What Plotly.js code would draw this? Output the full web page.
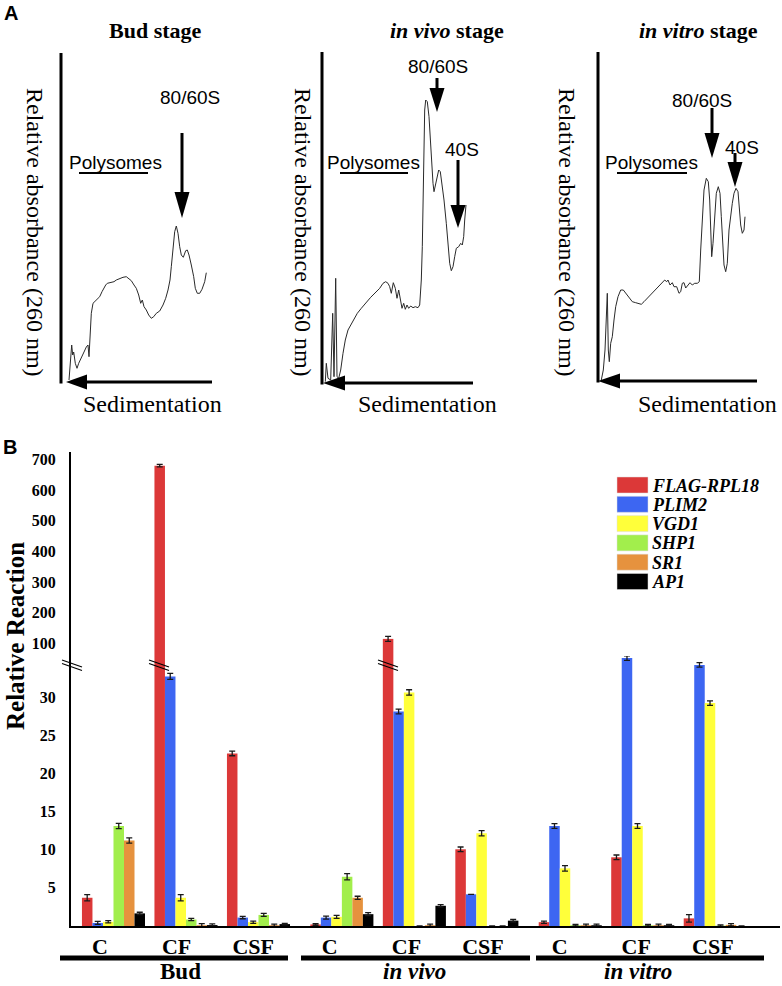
<!DOCTYPE html>
<html>
<head>
<meta charset="utf-8">
<script src="https://cdn.plot.ly/plotly-3.0.1.min.js"></script>
<style>html,body{margin:0;padding:0;background:#fff;}#chart{width:782px;height:986px;}</style>
</head>
<body>
<div id="chart"></div>
<script>
// ---------------- Panel B data ----------------
const stages = ['Bud', 'in vivo', 'in vitro'];
const conditions = ['C', 'CF', 'CSF'];
const genes = ['FLAG-RPL18', 'PLIM2', 'VGD1', 'SHP1', 'SR1', 'AP1'];
// values per gene over groups: Bud C, Bud CF, Bud CSF, in vivo C, CF, CSF, in vitro C, CF, CSF
const flagRpl18 = [3.7, 680, 22.6, 0.2, 115, 10.05, 0.5, 9.0, 1.0];
const flagRpl18Err = [0.4, 4, 0.3, 0.1, 8, 0.3, 0.15, 0.3, 0.5];
const plim2 = [0.4, 32.7, 1.1, 1.1, 28.1, 4.15, 13.1, 35.1, 34.2];
const plim2Err = [0.2, 0.4, 0.15, 0.2, 0.3, null, 0.3, 0.3, 0.3];
const vgd1 = [0.55, 3.7, 0.5, 1.2, 30.6, 12.15, 7.55, 13.1, 29.2];
const vgd1Err = [0.15, 0.4, 0.15, 0.2, 0.35, 0.35, 0.35, 0.3, 0.3];
const shp1 = [13.1, 0.85, 1.45, 6.45, 0, 0, 0.1, 0.1, 0.05];
const shp1Err = [0.35, 0.15, 0.2, 0.4, null, null, 0.1, 0.1, 0.1];
const sr1 = [11.2, 0.1, 0.1, 3.7, 0.1, 0, 0.1, 0.1, 0.15];
const sr1Err = [0.35, 0.2, 0.15, 0.2, 0.15, null, 0.15, 0.15, 0.15];
const ap1 = [1.65, 0.12, 0.25, 1.55, 2.65, 0.7, 0.1, 0.1, 0];
const ap1Err = [0.15, 0.15, 0.1, 0.2, 0.15, 0.15, 0.15, 0.1, null];
const lowerTicks = [5, 10, 15, 20, 25, 30];
const upperTicks = [100, 200, 300, 400, 500, 600, 700];

// ---------------- Panel A data (absorbance traces, arbitrary units) ----------------
const budSed = [8,9.7,10.7,11.7,12.7,14.3,16,17.7,20.3,23,25.3,27,28,29,30.3,32,35.3,38.7,41,43,44.7,46.3,48.7,50.3,53,55.3,58.7,62,65.3,67.7,70.3,73,75.3,77.7,79.7,81.3,83,85.3,87.7,90.3,92.7,95.3,98.7,102,104.7,107,109,110.3,112,113.7,115.3,117,118.7,120.3,122.3,124.7,126.3,128,130.3,132.7,134.3,136.3,138.7,141,143.7,145.3];
const budAbs = [2,22,37,27,30,18.7,13.7,18.7,23.7,30,35,37,25.3,48.7,68.7,78.7,82,85.3,90.3,94.7,97,98.7,99.3,100.3,100.3,102,103.7,104.7,105.3,103,101.3,97,93.7,87,78.7,82,75.3,72,67,63.7,65.3,68.7,71,77,83.7,92,102,115.3,137,150.3,156,148.7,135.3,127,124.7,131.3,132,127,117,105.3,93.7,88.7,88.7,92.7,100.3,109.3];
const vivoSed = [3.3,4.3,6,8.7,10.7,12,13.7,15,16.7,18.7,21,23.3,26,28.7,32,35.3,39.3,42.7,46,48.7,51,54.3,57.7,61,63.7,66,67.7,69.3,71.3,73.3,75,76.7,78.3,80,81.7,83.3,85,86.7,88.7,91,93.3,96,97.7,99.3,100.3,101,102,102.7,103.7,105.3,107,108.3,109.7,111,112,113.3,115,116.7,118.3,120,122,124.3,126,127.7,129.3,131,132.7,134.3,136.7,138.7,140.3,141.7,142.7,144];
const vivoAbs = [1.3,19.7,4.7,3,69.7,6.3,104.7,6.3,4.7,13,29.7,43,53,58,64.7,69.7,74.7,79,83,85.7,88,91.3,94.7,99.7,101.3,99.7,96.3,89.7,100.3,94.7,84.7,93,83,74.7,79.7,73.7,78,74.7,77,75.3,76.3,75.3,78,103,136.3,186.3,236.3,273,283,281.3,266.3,243,216.3,199.7,191.3,198,208,213,211.3,199.7,183,159.7,136.3,119.7,112.3,116.3,126.3,134.7,136.3,139.7,138,146.3,163,178];
const vitroSed = [3.3,5.3,7,8.7,9.3,10.3,11.3,12.7,14.3,16,17.7,20,22.7,25.3,27.7,31,34.3,37.7,41,43.3,46,49.3,52.7,56,59.3,62,64.3,66.7,68.7,70,72,74.3,76,78.7,81,82.7,84.3,86,87.7,90,92,94.3,96.7,99.3,101.3,102.7,104.3,106,108.3,110.3,111.7,112.7,113.7,115,116.7,118.3,120.3,122,123.3,124.7,126,127.7,129.3,131,132.7,134.3,136,138,140,141.3,142.7,144.3,146,147];
const vitroAbs = [1,11,31,71,87.7,31,19.3,37.7,44.3,61,74.3,84.3,91,91,87.7,82.7,79.3,78.3,77.7,76.7,79.3,82.7,86,89.3,92.7,96,97.7,101,99.3,101,96,98.3,94.3,94.3,87.7,89.3,97.7,98.3,93,96,98.3,96,97.7,97.7,99.3,131,164.3,191,202.7,199.3,181,154.3,124.3,137.7,171,187.7,194.3,187.7,164.3,134.3,116,109.3,117.7,151,167.7,177.7,187.7,192.7,189.3,174.3,156,147.7,151,164.3];

// ---------------- styles / layout helpers ----------------
const W = 782, H = 986;
const geneColors = ['#DC3838', '#3D66F2', '#FFFF3A', '#A2EE4C', '#E6923E', '#000000'];
const serif = 'Liberation Serif, Times New Roman, serif';
const sans = 'Liberation Sans, Arial, sans-serif';
const px = x => x / W;
const py = y => 1 - y / H;

const traces = [];
const shapes = [];
const annotations = [];

function line(x0, y0, x1, y1, w, color) {
  shapes.push({type: 'line', xref: 'paper', yref: 'paper', x0: px(x0), y0: py(y0), x1: px(x1), y1: py(y1),
    line: {color: color || '#000', width: w}});
}
function tri(pts) {
  const d = pts.map((p, i) => (i ? 'L' : 'M') + px(p[0]).toFixed(5) + ',' + py(p[1]).toFixed(5)).join(' ') + ' Z';
  shapes.push({type: 'path', xref: 'paper', yref: 'paper', path: d, fillcolor: '#000', line: {width: 0}});
}
function text(t, x, y, font, opts) {
  annotations.push(Object.assign({text: t, x: px(x), y: py(y), xref: 'paper', yref: 'paper', showarrow: false,
    xanchor: 'center', yanchor: 'middle', font: Object.assign({color: '#000'}, font)}, opts || {}));
}
function downArrow(x, yTop, yHeadTop, yTip) {
  line(x, yTop, x, yHeadTop + 2, 3);
  tri([[x - 7.5, yHeadTop], [x + 7.5, yHeadTop], [x, yTip]]);
}

// ---------------- Panel A ----------------
const panelsA = [
  {sed: budSed, abs: budAbs, ox: 61, oy: 382, top: 53, right: 212, tip: 66, head: 87,
   title: 'Bud stage', titleX: 155, ytX: 35, sedX: 152,
   poly: [115, 79, 148], peaks: [{label: '80/60S', lx: 190, ly: 98, x: 182, top: 133, headTop: 192, tip: 218}]},
  {sed: vivoSed, abs: vivoAbs, ox: 322, oy: 383, top: 52, right: 473, tip: 323, head: 345,
   title: '<i>in vivo</i> stage', titleX: 447, ytX: 303, sedX: 427,
   poly: [373, 340, 408], peaks: [{label: '80/60S', lx: 438, ly: 67, x: 437, top: 78, headTop: 88, tip: 112},
                                   {label: '40S', lx: 462, ly: 150, x: 458, top: 160, headTop: 205, tip: 228}]},
  {sed: vitroSed, abs: vitroAbs, ox: 598, oy: 381, top: 52, right: 757, tip: 598, head: 620,
   title: '<i>in vitro</i> stage', titleX: 698, ytX: 567, sedX: 707,
   poly: [651, 617, 687], peaks: [{label: '80/60S', lx: 702, ly: 100, x: 712, top: 108, headTop: 133, tip: 158},
                                   {label: '40S', lx: 742, ly: 147, x: 735, top: 153, headTop: 162, tip: 187}]}
];

const layout = {
  width: W, height: H,
  margin: {l: 0, r: 0, t: 0, b: 0},
  paper_bgcolor: '#fff', plot_bgcolor: 'rgba(0,0,0,0)',
  showlegend: false,
  barmode: 'group', bargap: 0.13, bargroupgap: 0,
  font: {family: serif, color: '#000'}
};

panelsA.forEach((p, i) => {
  const n = i + 3;
  const wAx = p.right - p.ox, hAx = p.oy - p.top;
  layout['xaxis' + n] = {domain: [px(p.ox), px(p.right)], range: [0, wAx], visible: false, fixedrange: true, anchor: 'y' + n};
  layout['yaxis' + n] = {domain: [py(p.oy), py(p.top)], range: [0, hAx], visible: false, fixedrange: true, anchor: 'x' + n};
  traces.push({type: 'scatter', mode: 'lines', x: p.sed, y: p.abs, xaxis: 'x' + n, yaxis: 'y' + n,
    line: {color: '#2a2a2a', width: 1}, hoverinfo: 'skip', cliponaxis: false});
  // axes
  line(p.ox, p.top, p.ox, p.oy + 1.5, 3);
  line(p.right, p.oy, p.head - 2, p.oy, 3);
  tri([[p.tip, p.oy], [p.head, p.oy - 7.5], [p.head, p.oy + 7.5]]);
  // texts
  text('<b>' + p.title + '</b>', p.titleX, 30, {family: serif, size: 22});
  text('Relative absorbance (260 nm)', p.ytX, 232, {family: serif, size: 24}, {textangle: 90});
  text('Sedimentation', p.sedX, 404, {family: serif, size: 24});
  text('Polysomes', p.poly[0], 162, {family: sans, size: 19});
  line(p.poly[1], 173, p.poly[2], 173, 2);
  p.peaks.forEach(k => {
    text(k.label, k.lx, k.ly, {family: sans, size: 19});
    downArrow(k.x, k.top, k.headTop, k.tip);
  });
});
text('<b>A</b>', 11, 13, {family: sans, size: 20});

// ---------------- Panel B ----------------
const series = [flagRpl18, plim2, vgd1, shp1, sr1, ap1];
const seriesErr = [flagRpl18Err, plim2Err, vgd1Err, shp1Err, sr1Err, ap1Err];
const stageGap = 0.15;
const groupPos = [];
const groupLabels = [];
stages.forEach((s, si) => conditions.forEach((c, ci) => {
  groupPos.push(si * conditions.length + ci + si * stageGap);
  groupLabels.push(c);
}));
// tick labels sit slightly left of the bar groups, evenly spaced as in the figure
const tickPos = groupLabels.map((c, k) => (100 + 76.6 * k - 113.5) / 72.5);

['y', 'y2'].forEach(ax => {
  series.forEach((vals, gi) => {
    traces.push({type: 'bar', name: genes[gi], x: groupPos, y: vals, xaxis: 'x', yaxis: ax,
      marker: {color: geneColors[gi], line: {width: 0}},
      error_y: {type: 'data', array: seriesErr[gi], visible: true, color: '#1a1a1a', thickness: 1.3, width: 3},
      hoverinfo: 'name+y', showlegend: false});
  });
});

const yBase = 926, yBreak = 656, yTopB = 452;
layout.xaxis = {domain: [px(71), px(780)], range: [-0.586, 9.193], anchor: 'y',
  showline: true, linecolor: '#000', linewidth: 1.5, showgrid: false, zeroline: false,
  tickmode: 'array', tickvals: tickPos, ticktext: groupLabels, ticks: '',
  tickfont: {family: serif, size: 22, weight: 'bold', color: '#000'}, fixedrange: true};
layout.yaxis = {domain: [py(yBase), py(yBreak)], range: [0, 35.37], anchor: 'x',
  showline: true, linecolor: '#000', linewidth: 2, showgrid: false, zeroline: false,
  tickmode: 'array', tickvals: lowerTicks, ticks: 'outside', ticklen: 10, tickcolor: 'rgba(0,0,0,0)',
  tickfont: {family: serif, size: 16, weight: 'bold', color: '#000'}, fixedrange: true};
layout.yaxis2 = {domain: [py(yBreak), py(yTopB)], range: [59.2, 724.5], anchor: 'x',
  showline: true, linecolor: '#000', linewidth: 2, showgrid: false, zeroline: false,
  tickmode: 'array', tickvals: upperTicks, ticks: 'outside', ticklen: 10, tickcolor: 'rgba(0,0,0,0)',
  tickfont: {family: serif, size: 16, weight: 'bold', color: '#000'}, fixedrange: true};

// axis break marks
function breakMark(xc, yc, half) {
  line(xc - half, yc - 4, xc + half, yc + 3, 1.2);
  line(xc - half, yc - 0.5, xc + half, yc + 6.5, 1.2);
}
breakMark(72, 664, 10);
breakMark(159, 664, 10);
breakMark(388, 664, 10);

text('<b>B</b>', 10, 447, {family: sans, size: 20});
text('Relative Reaction', 15, 636, {family: serif, size: 25, weight: 'bold'}, {textangle: -90});

// stage underlines and labels
const stageSpans = [[60, 288, 180], [301, 530, 414], [536, 764, 638]];
stages.forEach((s, si) => {
  const sp = stageSpans[si];
  line(sp[0], 958, sp[1], 958, 5);
  text(si === 0 ? '<b>' + s + '</b>' : '<b><i>' + s + '</i></b>', sp[2], 971, {family: serif, size: 23});
});

// legend
genes.forEach((g, gi) => {
  const yTop = 477 + gi * 19.3;
  shapes.push({type: 'rect', xref: 'paper', yref: 'paper', x0: px(617), x1: px(648), y0: py(yTop), y1: py(yTop + 16),
    fillcolor: geneColors[gi], line: {color: '#ddd', width: 0.5}});
  text('<b><i>' + g + '</i></b>', 650, yTop + 8.5, {family: serif, size: 18}, {xanchor: 'left'});
});

layout.shapes = shapes;
layout.annotations = annotations;

Plotly.newPlot('chart', traces, layout, {staticPlot: true, displayModeBar: false});
</script>
</body>
</html>
